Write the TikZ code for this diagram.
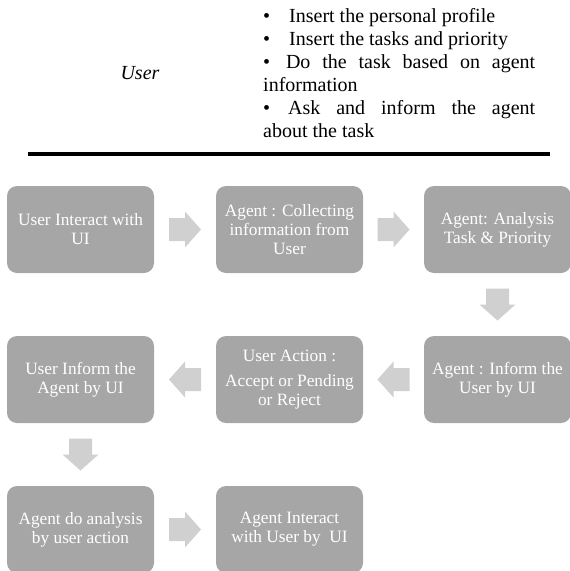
\documentclass[tikz,border=0pt]{standalone}
\usepackage{fontspec}
\setmainfont{Liberation Serif}
\usetikzlibrary{calc}
\definecolor{boxgray}{HTML}{A6A6A6}
\definecolor{arrowgray}{HTML}{D0D0D0}
\tikzset{pics/flowarrow/.style={code={
  \fill[arrowgray] (-16,-11.5) -- (0,-11.5) -- (0,-18) -- (16,0) -- (0,18) -- (0,11.5) -- (-16,11.5) -- cycle;}}}
\begin{document}
\begin{tikzpicture}[x=1pt,y=-1pt]
\tikzstyle{stepbox}=[rectangle,rounded corners=10pt,fill=boxgray,text=white,minimum width=147pt,minimum height=87pt,inner sep=2pt,align=center,font=\fontsize{17.3}{19}\selectfont]
\useasboundingbox (0,0) rectangle (570,571);
% header
\node[font=\fontsize{20}{23}\selectfont\itshape,anchor=base] (user) at (140,79) {User};
\node[anchor=north west,text width=272pt,align=justify,inner sep=0pt,font=\fontsize{20}{23}\selectfont] (tasks) at (263,8) {\hyphenpenalty=10000\relax
\makebox[26pt][l]{\textbullet}Insert the personal profile\\
\makebox[26pt][l]{\textbullet}Insert the tasks and priority\\
\textbullet\hspace{4pt}\ Do the task based on agent\linebreak information\\
\textbullet\hspace{2pt}\ Ask and inform the agent\linebreak about the task};
\coordinate (rulel) at (28,154);
\coordinate (ruler) at (550,154);
\draw[line width=4pt] (rulel) -- (ruler);
% flow
\node[stepbox] (interact) at (80.5,229.5) {User Interact with\\UI};
\node[stepbox] (collect) at (289.5,229.5) {Agent : Collecting\\information from\\User};
\node[stepbox] (analysis) at (497.5,229.5) {Agent: Analysis\\Task \& Priority};
\node[stepbox] (informuser) at (497.5,379.5) {Agent : Inform the\\User by UI};
\node[stepbox] (action) at (289.5,379.5) {User Action :\\[6pt]Accept or Pending\\or Reject};
\node[stepbox] (informagent) at (80.5,379.5) {User Inform the\\Agent by UI};
\node[stepbox] (doanalysis) at (80.5,529.5) {Agent do analysis\\by user action};
\node[stepbox] (agentui) at (289.5,529.5) {Agent Interact\\with User by~ UI};
\pic at ($(interact.east)!.5!(collect.west)$) {flowarrow};
\pic at ($(collect.east)!.5!(analysis.west)$) {flowarrow};
\pic[rotate=-90] at ($(analysis.south)!.5!(informuser.north)$) {flowarrow};
\pic[rotate=180] at ($(informuser.west)!.5!(action.east)$) {flowarrow};
\pic[rotate=180] at ($(action.west)!.5!(informagent.east)$) {flowarrow};
\pic[rotate=-90] at ($(informagent.south)!.5!(doanalysis.north)$) {flowarrow};
\pic at ($(doanalysis.east)!.5!(agentui.west)$) {flowarrow};
\end{tikzpicture}
\end{document}
